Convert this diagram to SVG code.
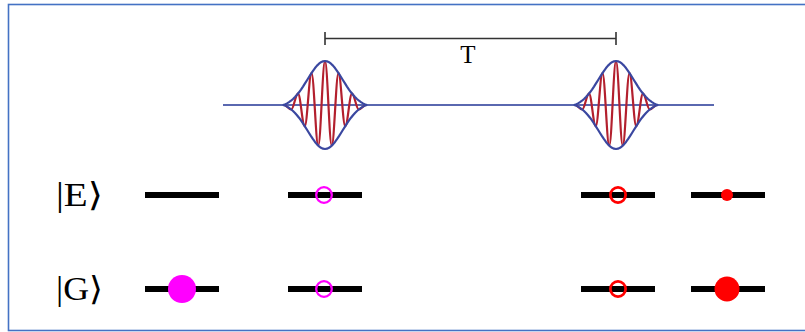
<svg xmlns="http://www.w3.org/2000/svg" xmlns:xlink="http://www.w3.org/1999/xlink" width="805" height="332" viewBox="0 0 805 332">
  <style>
    .frame { fill: #ffffff; stroke: #4472C4; stroke-width: 1.6; }
    .level { stroke: #000000; stroke-width: 6; }
    .ket { font-family: "Liberation Serif", "DejaVu Serif", serif; font-size: 33px; fill: #000000; }
    .tlabel { font-family: "Liberation Serif", "DejaVu Serif", serif; font-size: 25px; fill: #000000; text-anchor: middle; }
    .bar { stroke: #333333; stroke-width: 1.6; fill: none; }
    .base { stroke: #5a68b0; stroke-width: 1.8; fill: none; }
    .env { stroke: #3a47a0; stroke-width: 2.2; fill: none; stroke-linejoin: round; stroke-linecap: round; }
    .carrier { stroke: #b3202e; stroke-width: 2.2; fill: none; stroke-linejoin: round; }
    .ringM { fill: none; stroke: #ff00ff; stroke-width: 2.3; }
    .ringR { fill: none; stroke: #ff0000; stroke-width: 2.8; }
    .dotM { fill: #ff00ff; }
    .dotR { fill: #ff0000; }
  </style>
  <defs>
    <g id="pulse">
      <path class="carrier" d="M-41,0 C-38.5,0 -36.21,4.48 -33.75,4.48 C-31.29,4.48 -29.46,-11.43 -27,-11.43 C-24.54,-11.43 -22.71,21.16 -20.25,21.16 C-17.79,21.16 -15.96,-31.95 -13.5,-31.95 C-11.04,-31.95 -9.21,40.64 -6.75,40.64 C-4.29,40.64 -2.46,-44 0,-44 C2.46,-44 4.29,40.64 6.75,40.64 C9.21,40.64 11.04,-31.95 13.5,-31.95 C15.96,-31.95 17.790,21.16 20.25,21.16 C22.71,21.16 24.54,-11.43 27,-11.43 C29.46,-11.43 31.29,4.48 33.75,4.48 C36.21,4.48 38.5,0 41,0"/>
      <path id="envUp" class="env" d="M-41.3,0 L-40,-0.63 L-38,-1.62 L-36,-2.83 L-34,-4.28 L-32,-5.99 L-30,-7.96 L-28,-10.21 L-26,-12.72 L-24,-15.47 L-22,-18.43 L-20,-21.55 L-18,-24.77 L-16,-28.01 L-14,-31.18 L-12,-34.19 L-10,-36.95 L-8,-39.36 L-6,-41.33 L-4,-42.79 L-2,-43.7 L0,-44 L2,-43.7 L4,-42.79 L6,-41.33 L8,-39.36 L10,-36.95 L12,-34.19 L14,-31.18 L16,-28.01 L18,-24.77 L20,-21.55 L22,-18.43 L24,-15.47 L26,-12.72 L28,-10.21 L30,-7.96 L32,-5.99 L34,-4.28 L36,-2.83 L38,-1.62 L40,-0.63 L41.3,0"/>
      <use xlink:href="#envUp" href="#envUp" transform="scale(1,-1)"/>
    </g>
  </defs>

  <rect class="frame" x="8.5" y="4.5" width="805" height="326"/>

  <g id="timeline">
    <line class="base" x1="223" y1="105" x2="714" y2="105"/>
    <use href="#pulse" xlink:href="#pulse" transform="translate(325,105)"/>
    <use href="#pulse" xlink:href="#pulse" transform="translate(616,105)"/>
  </g>

  <g id="period-T">
    <path class="bar" d="M325,38.5 H616 M325,32 V45 M616,32 V45"/>
    <text class="tlabel" x="468" y="62.5">T</text>
  </g>

  <g id="label-E"><text class="ket" x="56" y="206" textLength="47" lengthAdjust="spacingAndGlyphs">|E⟩</text></g>
  <g id="label-G"><text class="ket" x="56" y="300" textLength="47" lengthAdjust="spacingAndGlyphs">|G⟩</text></g>

  <g id="col1">
    <line class="level" x1="145" y1="195" x2="219" y2="195"/>
    <line class="level" x1="145" y1="289" x2="219" y2="289"/>
    <circle class="dotM" cx="182" cy="289" r="14"/>
  </g>
  <g id="col2">
    <line class="level" x1="288" y1="195" x2="362" y2="195"/>
    <line class="level" x1="288" y1="289" x2="362" y2="289"/>
    <circle class="ringM" cx="324" cy="195" r="7.8"/>
    <circle class="ringM" cx="324" cy="289" r="7.8"/>
  </g>
  <g id="col3">
    <line class="level" x1="581" y1="195" x2="655" y2="195"/>
    <line class="level" x1="581" y1="289" x2="655" y2="289"/>
    <circle class="ringR" cx="618" cy="195" r="7.6"/>
    <circle class="ringR" cx="618" cy="289" r="7.6"/>
  </g>
  <g id="col4">
    <line class="level" x1="691" y1="195" x2="765" y2="195"/>
    <line class="level" x1="691" y1="289" x2="765" y2="289"/>
    <circle class="dotR" cx="727" cy="195" r="6"/>
    <circle class="dotR" cx="727" cy="289" r="12.5"/>
  </g>
</svg>
